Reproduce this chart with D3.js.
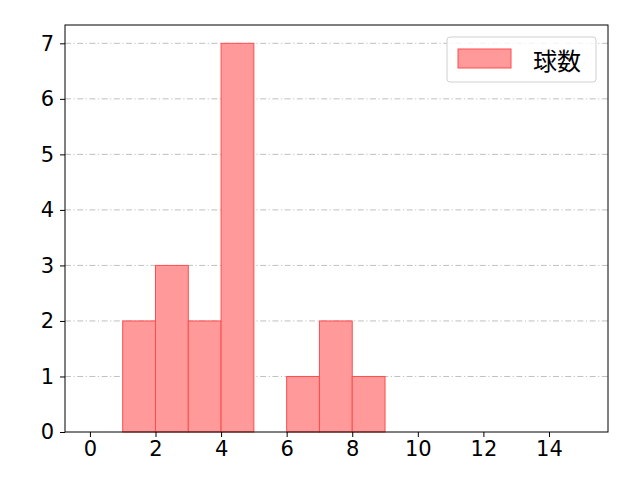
<!DOCTYPE html>
<html lang="ja">
<head>
<meta charset="utf-8">
<script src="https://d3js.org/d3.v7.min.js"></script>
<style>
  body { margin: 0; background: #fff; }
</style>
</head>
<body>
<div id="chart"></div>
<script>
// histogram bins (left edge) and counts
const binStarts = [1, 2, 3, 4, 5, 6, 7, 8];
const counts = [2, 3, 2, 7, 0, 1, 2, 1];
const xTicks = [0, 2, 4, 6, 8, 10, 12, 14];
const yTicks = [0, 1, 2, 3, 4, 5, 6, 7];
const seriesName = "球数";

const W = 640, H = 480;
const margin = {top: 25, right: 32, bottom: 48, left: 65};
const width = W - margin.left - margin.right,
      height = H - margin.top - margin.bottom;

const svg = d3.select("#chart").append("svg")
    .attr("width", W).attr("height", H)
  .append("g")
    .attr("transform", `translate(${margin.left},${margin.top})`);

const x = d3.scaleLinear().domain([-0.76, 15.8]).range([0, width]);
const y = d3.scaleLinear().domain([0, 7.33]).range([height, 0]);

// grid
svg.append("g").selectAll("line")
  .data(yTicks.filter(d => d > 0))
  .join("line")
    .attr("x1", 0).attr("x2", width)
    .attr("y1", d => y(d)).attr("y2", d => y(d))
    .attr("stroke", "#b0b0b0")
    .attr("stroke-width", 0.8)
    .attr("stroke-dasharray", "6,2.5,1.2,2.5");

// bars
svg.append("g").selectAll("rect")
  .data(binStarts.map((b, i) => ({b, c: counts[i]})).filter(d => d.c > 0))
  .join("rect")
    .attr("x", d => x(d.b))
    .attr("y", d => y(d.c))
    .attr("width", d => x(d.b + 1) - x(d.b))
    .attr("height", d => y(0) - y(d.c))
    .attr("fill", "#ff999a")
    .attr("stroke", "#ff4d4d")
    .attr("stroke-width", 1);

// axes
const xAxis = svg.append("g")
  .attr("transform", `translate(0,${height})`)
  .call(d3.axisBottom(x).tickValues(xTicks).tickSize(5).tickPadding(4));
const yAxis = svg.append("g")
  .call(d3.axisLeft(y).tickValues(yTicks).tickSize(5).tickPadding(6));
[xAxis, yAxis].forEach(a => {
  a.attr("font-family", "DejaVu Sans").attr("font-size", 21);
  a.select(".domain").remove();
  a.selectAll("line").attr("stroke", "#000").attr("stroke-width", 1);
  a.selectAll("text").attr("fill", "#000");
});

// frame
svg.append("rect")
  .attr("width", width).attr("height", height)
  .attr("fill", "none").attr("stroke", "#000").attr("stroke-width", 1);

// legend
const lg = svg.append("g").attr("transform", `translate(${width - 161},${12})`);
lg.append("rect")
  .attr("width", 149).attr("height", 45).attr("rx", 3)
  .attr("fill", "#fff").attr("fill-opacity", 0.8)
  .attr("stroke", "#d0d0d0");
lg.append("rect")
  .attr("x", 11).attr("y", 12).attr("width", 53).attr("height", 19)
  .attr("fill", "#ff999a").attr("stroke", "#ff4d4d");
lg.append("text")
  .attr("x", 86).attr("y", 22)
  .attr("dominant-baseline", "central")
  .attr("font-family", "Noto Sans CJK JP")
  .attr("font-size", 24)
  .text(seriesName);
</script>
</body>
</html>
